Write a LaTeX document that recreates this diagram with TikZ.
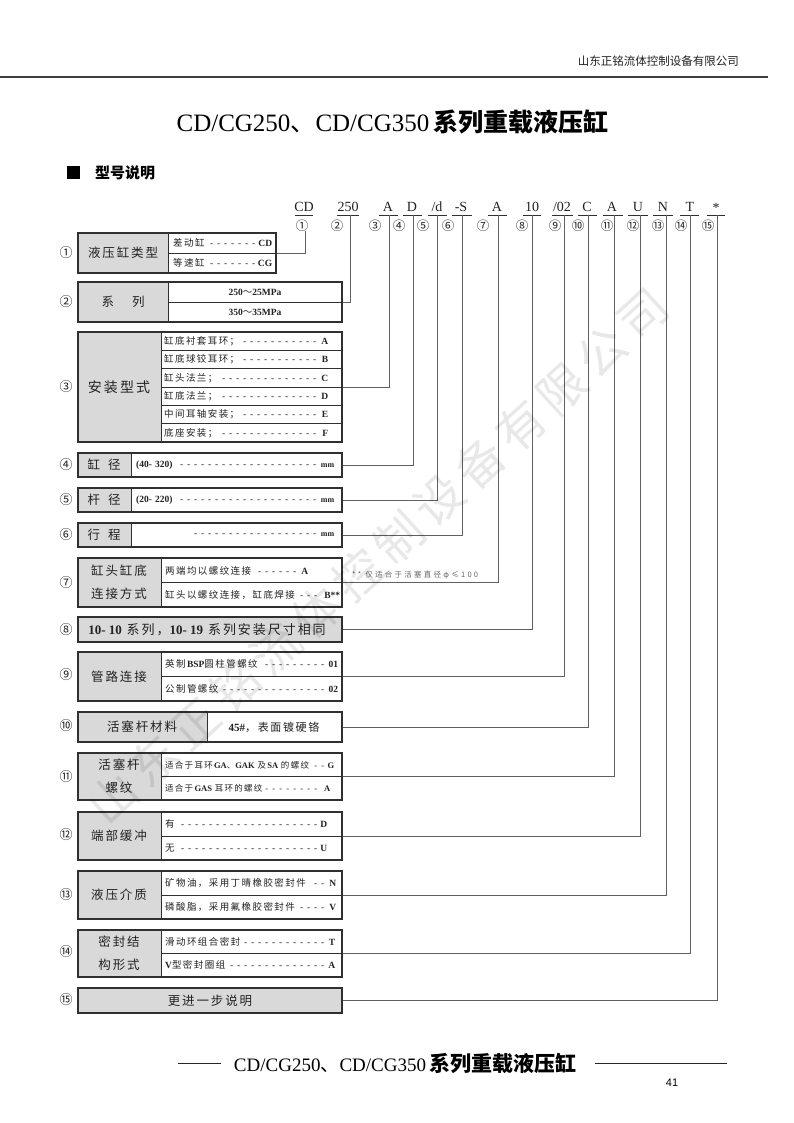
\documentclass[tikz,border=0pt]{standalone}
\usepackage{fontspec}
\setmainfont{Liberation Serif}
\newfontfamily\zhf{Noto Sans CJK SC}
\newfontfamily\zhsp[LetterSpace=15]{Noto Sans CJK SC}
\newfontfamily\zhwide[LetterSpace=30]{Noto Sans CJK SC}
\newfontfamily\sansf{Liberation Sans}
\newcommand\z[1]{{\zhf #1}}
\newcommand\zs[1]{{\zhsp #1}}
\newcommand\dfill{\leaders\hbox to 7pt{\hss-\hss}\hfill}
\newcommand\rowf{\fontsize{9.5}{11}\selectfont}
\setlength\parindent{0pt}
\definecolor{cellgray}{HTML}{D9D9D9}
\definecolor{linec}{HTML}{303030}
\definecolor{connc}{HTML}{606060}
\definecolor{textc}{HTML}{222222}
\begin{document}
\begin{tikzpicture}[x=1pt,y=-1pt,
  boxn/.style={draw=linec, line width=1.1pt, inner sep=0pt},
  divl/.style={draw=linec, line width=0.8pt},
  conn/.style={draw=connc, line width=0.9pt},
  lab/.style={font=\fontsize{12.5}{23}\selectfont\zhsp, text=textc, inner sep=0pt, align=center},
  rowt/.style={anchor=west, inner sep=0pt, font=\rowf, text=textc},
  code/.style={font=\fontsize{14}{16}\selectfont, text=textc, inner sep=0pt},
  circ/.style={font=\fontsize{12.5}{14}\selectfont\zhf, text=textc, inner sep=0pt},
  lcirc/.style={font=\fontsize{13}{15}\selectfont\zhf, text=textc, inner sep=0pt},
  uline/.style={draw=linec, line width=0.8pt}
]
\useasboundingbox (0,0) rectangle (793,1123);
\fill[white] (0,0) rectangle (793,1123);

% header
\node[anchor=east, inner sep=0pt, text=textc] (co) at (739,61) {\fontsize{11.5}{13}\selectfont\zhf 山东正铭流体控制设备有限公司};
\draw[line width=1.3pt, draw=black!75] (0,77) -- (768,77);
\node[inner sep=0pt, text=black] (title) at (392.5,122) {\fontsize{25}{30}\selectfont CD/CG250\z{、}CD/CG350\hspace{4pt}{\zhf\bfseries 系列重载液压缸}};

% section heading
\node[fill=black, minimum size=13pt, inner sep=0pt] (sq) at (73.5,172.5) {};
\node[anchor=west, inner sep=0pt] (sec) at (95,172.5) {\fontsize{15}{18}\selectfont\zhf\bfseries 型号说明};

% code row
\node[code] (k1) at (304,207) {CD};
\node[code] (k2) at (348,207) {250};
\node[code] (k3) at (388,207) {A};
\node[code] (k4) at (412,207) {D};
\node[code] (k5) at (437,207) {/d};
\node[code] (k6) at (461,207) {-S};
\node[code] (k7) at (497,207) {A};
\node[code] (k8) at (532,207) {10};
\node[code] (k9) at (562,207) {/02};
\node[code] (k10) at (587,207) {C};
\node[code] (k11) at (612,207) {A};
\node[code] (k12) at (638,207) {U};
\node[code] (k13) at (663,207) {N};
\node[code] (k14) at (690,207) {T};
\node[code] (k15) at (716,208) {*};
\foreach \a/\b in {295/313,337/359,379/398,403/422,428/447,452/472,488/507,523/541,552/573,578/597,603/623,628/648,653/673,680/699,707/725}
  \draw[uline] (\a,215) -- (\b,215);
\node[circ] (n1) at (302,226) {①};
\node[circ] (n2) at (337,226) {②};
\node[circ] (n3) at (375,226) {③};
\node[circ] (n4) at (399,226) {④};
\node[circ] (n5) at (423,226) {⑤};
\node[circ] (n6) at (448,226) {⑥};
\node[circ] (n7) at (483,226) {⑦};
\node[circ] (n8) at (522,226) {⑧};
\node[circ] (n9) at (555,226) {⑨};
\node[circ] (n10) at (578,226) {⑩};
\node[circ] (n11) at (607,226) {⑪};
\node[circ] (n12) at (633,226) {⑫};
\node[circ] (n13) at (658,226) {⑬};
\node[circ] (n14) at (681,226) {⑭};
\node[circ] (n15) at (708,226) {⑮};

% gray label cells
\fill[cellgray] (78,233) rectangle (168,273);
\fill[cellgray] (78,282) rectangle (168,322);
\fill[cellgray] (78,332) rectangle (161,442);
\fill[cellgray] (78,453) rectangle (131,477);
\fill[cellgray] (78,488) rectangle (131,512);
\fill[cellgray] (78,523) rectangle (131,547);
\fill[cellgray] (78,558) rectangle (161,607);
\fill[cellgray] (78,617) rectangle (342,642);
\fill[cellgray] (78,652) rectangle (161,701);
\fill[cellgray] (78,712) rectangle (207,742);
\fill[cellgray] (78,753) rectangle (161,800);
\fill[cellgray] (78,812) rectangle (161,860);
\fill[cellgray] (78,871) rectangle (161,919);
\fill[cellgray] (78,930) rectangle (161,977);
\fill[cellgray] (78,988) rectangle (342,1013);

% boxes
\node[boxn, minimum width=198pt, minimum height=40pt] (b1) at (177,253) {};
\node[boxn, minimum width=264pt, minimum height=40pt] (b2) at (210,302) {};
\node[boxn, minimum width=264pt, minimum height=110pt] (b3) at (210,387) {};
\node[boxn, minimum width=264pt, minimum height=24pt] (b4) at (210,465) {};
\node[boxn, minimum width=264pt, minimum height=24pt] (b5) at (210,500) {};
\node[boxn, minimum width=264pt, minimum height=24pt] (b6) at (210,535) {};
\node[boxn, minimum width=264pt, minimum height=49pt] (b7) at (210,582.5) {};
\node[boxn, minimum width=264pt, minimum height=25pt] (b8) at (210,629.5) {};
\node[boxn, minimum width=264pt, minimum height=49pt] (b9) at (210,676.5) {};
\node[boxn, minimum width=264pt, minimum height=30pt] (b10) at (210,727) {};
\node[boxn, minimum width=264pt, minimum height=47pt] (b11) at (210,776.5) {};
\node[boxn, minimum width=264pt, minimum height=48pt] (b12) at (210,836) {};
\node[boxn, minimum width=264pt, minimum height=48pt] (b13) at (210,895) {};
\node[boxn, minimum width=264pt, minimum height=47pt] (b14) at (210,953.5) {};
\node[boxn, minimum width=264pt, minimum height=25pt] (b15) at (210,1000.5) {};

% cell separators
\draw[divl] (168,233) -- (168,273) (168,253) -- (276,253);
\draw[divl] (168,282) -- (168,322) (168,302) -- (342,302);
\draw[divl] (161,332) -- (161,442);
\foreach \y in {350.3,368.7,387,405.3,423.7} \draw[divl] (161,\y) -- (342,\y);
\draw[divl] (131,453) -- (131,477);
\draw[divl] (131,488) -- (131,512);
\draw[divl] (131,523) -- (131,547);
\draw[divl] (161,558) -- (161,607) (161,582.5) -- (342,582.5);
\draw[divl] (161,652) -- (161,701) (161,676.5) -- (342,676.5);
\draw[divl] (207,712) -- (207,742);
\draw[divl] (161,753) -- (161,800) (161,776.5) -- (342,776.5);
\draw[divl] (161,812) -- (161,860) (161,836) -- (342,836);
\draw[divl] (161,871) -- (161,919) (161,895) -- (342,895);
\draw[divl] (161,930) -- (161,977) (161,953.5) -- (342,953.5);

% left circled numbers
\node[lcirc] (m1) at (66,253) {①};
\node[lcirc] (m2) at (66,302) {②};
\node[lcirc] (m3) at (66,387) {③};
\node[lcirc] (m4) at (66,465) {④};
\node[lcirc] (m5) at (66,500) {⑤};
\node[lcirc] (m6) at (66,535) {⑥};
\node[lcirc] (m7) at (66,582.5) {⑦};
\node[lcirc] (m8) at (66,629.5) {⑧};
\node[lcirc] (m9) at (66,675) {⑨};
\node[lcirc] (m10) at (66,726) {⑩};
\node[lcirc] (m11) at (66,777) {⑪};
\node[lcirc] (m12) at (66,835) {⑫};
\node[lcirc] (m13) at (66,895) {⑬};
\node[lcirc] (m14) at (66,952) {⑭};
\node[lcirc] (m15) at (66,1000) {⑮};

% labels
\node[lab] (l1) at (123,253) {液压缸类型};
\node[lab] (l2) at (123,302) {系\hspace{18pt}列};
\node[lab, font=\fontsize{14}{16}\selectfont\zhsp] (l3) at (119,387) {安装型式};
\node[lab] (l4) at (104,465) {缸\hspace{8pt}径};
\node[lab] (l5) at (104,500) {杆\hspace{8pt}径};
\node[lab] (l6) at (104,535) {行\hspace{8pt}程};
\node[lab] (l7) at (119,582.5) {缸头缸底\\连接方式};
\node[lab, font=\fontsize{13}{15}\selectfont\zhsp] (l8) at (207,629.5) {{\rmfamily\bfseries 10- 10} 系列，{\rmfamily\bfseries 10- 19} 系列安装尺寸相同};
\node[lab] (l9) at (119,676.5) {管路连接};
\node[lab] (l10) at (142,727) {活塞杆材料};
\node[lab] (l11) at (119,776.5) {活塞杆\\螺纹};
\node[lab] (l12) at (119,836) {端部缓冲};
\node[lab] (l13) at (119,895) {液压介质};
\node[lab] (l14) at (119,953.5) {密封结\\构形式};
\node[lab] (l15) at (210,1000.5) {更进一步说明};

% row texts
\node[rowt, text width=99pt] (r1a) at (173,243) {\zs{差动缸}\dfill\textbf{CD}};
\node[rowt, text width=99pt] (r1b) at (173,263) {\zs{等速缸}\dfill\textbf{CG}};
\node[rowt, anchor=center] (r2a) at (255,292) {\textbf{250}\z{～}\textbf{25MPa}};
\node[rowt, anchor=center] (r2b) at (255,312) {\textbf{350}\z{～}\textbf{35MPa}};
\node[rowt, text width=164pt] (r3a) at (164,341.2) {\zs{缸底衬套耳环；}\dfill\textbf{A}};
\node[rowt, text width=164pt] (r3b) at (164,359.5) {\zs{缸底球铰耳环；}\dfill\textbf{B}};
\node[rowt, text width=164pt] (r3c) at (164,377.8) {\zs{缸头法兰；}\dfill\textbf{C}};
\node[rowt, text width=164pt] (r3d) at (164,396.2) {\zs{缸底法兰；}\dfill\textbf{D}};
\node[rowt, text width=164pt] (r3e) at (164,414.5) {\zs{中间耳轴安装；}\dfill\textbf{E}};
\node[rowt, text width=164pt] (r3f) at (164,432.8) {\zs{底座安装；}\dfill\textbf{F}};
\node[rowt, text width=198pt] (r4) at (136,465) {\textbf{(40- 320)}\dfill{\fontsize{8}{9}\selectfont\textbf{mm}}};
\node[rowt, text width=198pt] (r5) at (136,500) {\textbf{(20- 220)}\dfill{\fontsize{8}{9}\selectfont\textbf{mm}}};
\node[rowt, text width=198pt] (r6) at (136,535) {\hspace*{56pt}\dfill{\fontsize{8}{9}\selectfont\textbf{mm}}};
\node[rowt, text width=143pt] (r7a) at (165,570.5) {\zs{两端均以螺纹连接}\dfill\textbf{A}};
\node[rowt, text width=175pt] (r7b) at (165,595) {\zs{缸头以螺纹连接，缸底焊接}\dfill\textbf{B**}};
\node[rowt, text width=173pt] (r9a) at (165,664) {\zs{英制}\textbf{BSP}\zs{圆柱管螺纹}\dfill\textbf{01}};
\node[rowt, text width=173pt] (r9b) at (165,689) {\zs{公制管螺纹}\dfill\textbf{02}};
\node[lab, font=\fontsize{11}{13}\selectfont\zhsp] (r10) at (274,727) {{\rmfamily\bfseries 45\#}，表面镀硬铬};
\node[rowt, text width=169pt, font=\fontsize{8.5}{10}\selectfont] (r11a) at (165,765) {\zs{适合于耳环}\textbf{GA}\z{、}\textbf{GAK} \zs{及}\textbf{SA} \zs{的螺纹}\dfill\textbf{G}};
\node[rowt, text width=165pt, font=\fontsize{8.5}{10}\selectfont] (r11b) at (165,788) {\zs{适合于}\textbf{GAS} \zs{耳环的螺纹}\dfill\textbf{A}};
\node[rowt, text width=162pt] (r12a) at (165,824) {\zs{有}\dfill\textbf{D}};
\node[rowt, text width=162pt] (r12b) at (165,848) {\zs{无}\dfill\textbf{U}};
\node[rowt, text width=171pt] (r13a) at (165,883) {\zs{矿物油，采用丁晴橡胶密封件}\dfill\textbf{N}};
\node[rowt, text width=171pt] (r13b) at (165,907) {\zs{磷酸脂，采用氟橡胶密封件}\dfill\textbf{V}};
\node[rowt, text width=170pt] (r14a) at (165,942) {\zs{滑动环组合密封}\dfill\textbf{T}};
\node[rowt, text width=170pt] (r14b) at (165,965) {\textbf{V}\zs{型密封圈组}\dfill\textbf{A}};

% note
\node[anchor=west, inner sep=0pt, text=black!60, font=\fontsize{7.5}{9}\selectfont\zhwide] (note) at (352,575) {** 仅适合于活塞直径φ≤100};

% connectors
\coordinate (u1) at (305,231);
\coordinate (u2) at (350,215);
\coordinate (u3) at (389,215);
\coordinate (u4) at (413,215);
\coordinate (u5) at (437,215);
\coordinate (u6) at (462,215);
\coordinate (u7) at (498,215);
\coordinate (u8) at (532,215);
\coordinate (u9) at (564,215);
\coordinate (u10) at (588,215);
\coordinate (u11) at (614,215);
\coordinate (u12) at (640,215);
\coordinate (u13) at (666,215);
\coordinate (u14) at (690,215);
\coordinate (u15) at (717,215);
\foreach \i in {1,...,15} \draw[conn] (u\i) |- (b\i.east);

% footer
\draw[line width=1pt, draw=black!85] (178,1063) -- (221,1063);
\node[inner sep=0pt] (foot) at (405,1063) {\fontsize{19}{22}\selectfont CD/CG250\z{、}CD/CG350\hspace{3pt}{\fontsize{21}{24}\selectfont\zhf\bfseries 系列重载液压缸}};
\draw[line width=1pt, draw=black!85] (595,1063) -- (727,1063);
\node[inner sep=0pt] (pg) at (672,1083) {\sansf\fontsize{11}{13}\selectfont 41};

% watermark
\begin{scope}[blend mode=multiply]
\node[rotate=42.4, inner sep=0pt, text=black!9, font=\fontsize{48}{50}\selectfont\zhsp] (wm) at (378,556) {山东正铭流体控制设备有限公司};
\end{scope}
\end{tikzpicture}
\end{document}
